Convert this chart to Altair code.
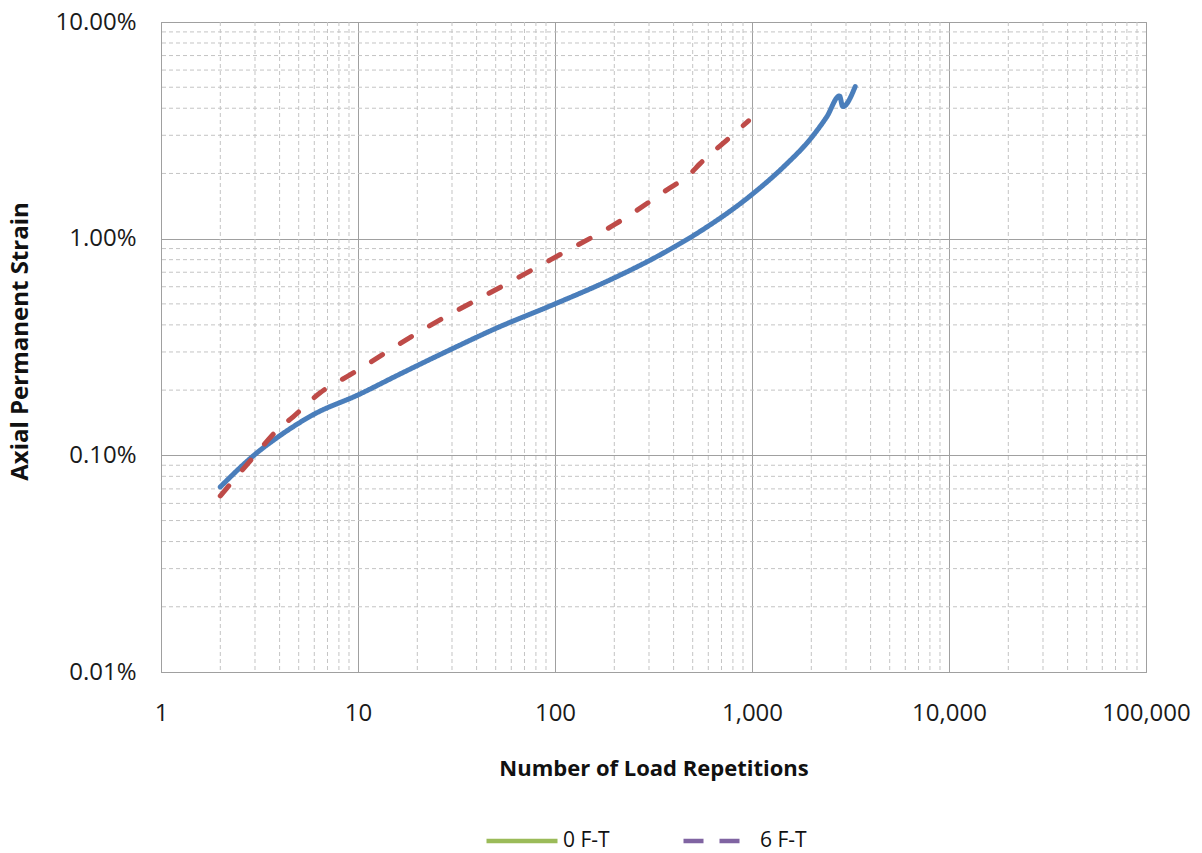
import altair as alt
import pandas as pd

# Permanent strain curves for the two freeze-thaw conditions (strain in percent)
series_names = ["0 F-T", "6 F-T"]

cycles_0ft = [2, 3, 4, 6, 10, 16, 30, 50, 100, 190, 340, 545, 1000, 1450, 2000, 2400, 2780, 2890, 3340]
strain_0ft = [0.0715, 0.101, 0.123, 0.155, 0.19, 0.235, 0.31, 0.385, 0.50, 0.645, 0.84, 1.08, 1.60,
              2.15, 2.92, 3.66, 4.56, 4.07, 5.03]

cycles_6ft = [2, 3, 3.9, 4.7, 6.4, 9.1, 22, 64, 110, 200, 370, 485, 545, 745, 960]
strain_6ft = [0.065, 0.1, 0.131, 0.151, 0.194, 0.235, 0.386, 0.656, 0.86, 1.16, 1.68, 1.99, 2.22, 2.85, 3.5]

line_colors = ["#4a7ebb", "#be4b48"]
legend_colors = ["#9bbb59", "#8064a2"]

x_major = [1, 10, 100, 1000, 10000, 100000]
y_major = [0.0001, 0.001, 0.01, 0.1]
x_minor = [m * 10 ** k for k in range(5) for m in range(2, 10)]
y_minor = [m * 10.0 ** k for k in range(-4, -1) for m in range(2, 10)]

rows = []
for name, xs, ys in [(series_names[0], cycles_0ft, strain_0ft), (series_names[1], cycles_6ft, strain_6ft)]:
    for i, (n, s) in enumerate(zip(xs, ys)):
        rows.append({"series": name, "n": n, "strain": s / 100.0, "idx": i})
df = pd.DataFrame(rows)

FONT = "Open Sans"
x_scale = alt.Scale(type="log", domain=[1, 100000], nice=False)
y_scale = alt.Scale(type="log", domain=[0.0001, 0.1], nice=False)

# one axis definition shared by every layer so the layers merge into a single axis
x_axis = alt.Axis(
    values=x_major, format=",d", title="Number of Load Repetitions",
    labelFont=FONT, labelFontSize=24, labelColor="#1a1a1a", labelPadding=29, labelFlush=False,
    tickSize=0, grid=True, gridColor="#a0a0a0", gridWidth=1,
    domainColor="#a0a0a0", titleFont=FONT, titleFontSize=22, titleFontWeight="bold",
    titleColor="#111111", titleY=96, titleBaseline="middle",
)
y_axis = alt.Axis(
    values=y_major, format=".2%", title="Axial Permanent Strain",
    labelFont=FONT, labelFontSize=24, labelColor="#1a1a1a", labelPadding=25, labelFlush=False,
    tickSize=0, grid=True, gridColor="#a0a0a0", gridWidth=1,
    domainColor="#a0a0a0", titleFont=FONT, titleFontSize=24, titleFontWeight="bold",
    titleColor="#111111", titleX=-141, titleY=319, titleBaseline="middle",
)

# dashed minor gridlines (2..9 within each decade)
minor_x = alt.Chart(pd.DataFrame({"v": x_minor})).mark_rule(
    color="#c4c4c4", strokeWidth=1, strokeDash=[4, 3]
).encode(x=alt.X("v:Q", scale=x_scale, axis=x_axis))

minor_y = alt.Chart(pd.DataFrame({"v": y_minor})).mark_rule(
    color="#c4c4c4", strokeWidth=1, strokeDash=[4, 3]
).encode(y=alt.Y("v:Q", scale=y_scale, axis=y_axis))

curves = alt.Chart(df).mark_line(strokeWidth=5, interpolate="monotone", strokeCap="round",
                                 strokeJoin="round").encode(
    x=alt.X("n:Q", scale=x_scale, axis=x_axis),
    y=alt.Y("strain:Q", scale=y_scale, axis=y_axis),
    color=alt.Color("series:N", scale=alt.Scale(domain=series_names, range=line_colors), legend=None),
    strokeDash=alt.StrokeDash("series:N", scale=alt.Scale(domain=series_names, range=[[1, 0], [13, 21]]),
                              legend=None),
    order="idx:Q",
)

legend_spec = dict(
    orient="none", legendX=323, legendY=781, direction="horizontal", title=None,
    symbolType="stroke", symbolSize=5041, symbolStrokeWidth=4.5, symbolOpacity=1,
    labelFont=FONT, labelFontSize=21, labelColor="#111111", labelOffset=3, columnPadding=64,
    padding=0,
)

# invisible copy of the curves that carries the legend
legend_layer = alt.Chart(df).mark_line(opacity=0).encode(
    x=alt.X("n:Q", scale=x_scale, axis=x_axis),
    y=alt.Y("strain:Q", scale=y_scale, axis=y_axis),
    color=alt.Color("series:N", scale=alt.Scale(domain=series_names, range=legend_colors),
                    legend=alt.Legend(**legend_spec)),
    strokeDash=alt.StrokeDash("series:N", scale=alt.Scale(domain=series_names, range=[[1, 0], [20, 16]]),
                              legend=alt.Legend(**legend_spec)),
    order="idx:Q",
)

chart = alt.layer(minor_x, minor_y, legend_layer, curves).resolve_scale(
    color="independent", strokeDash="independent"
).properties(
    width=985, height=650,
    autosize=alt.AutoSizeParams(type="none"),
    padding={"left": 161, "top": 22, "right": 56, "bottom": 181},
    background="white",
).configure_view(stroke="#a0a0a0", strokeWidth=1)

chart.save("out.html", embed_options={"renderer": "svg", "actions": False})
